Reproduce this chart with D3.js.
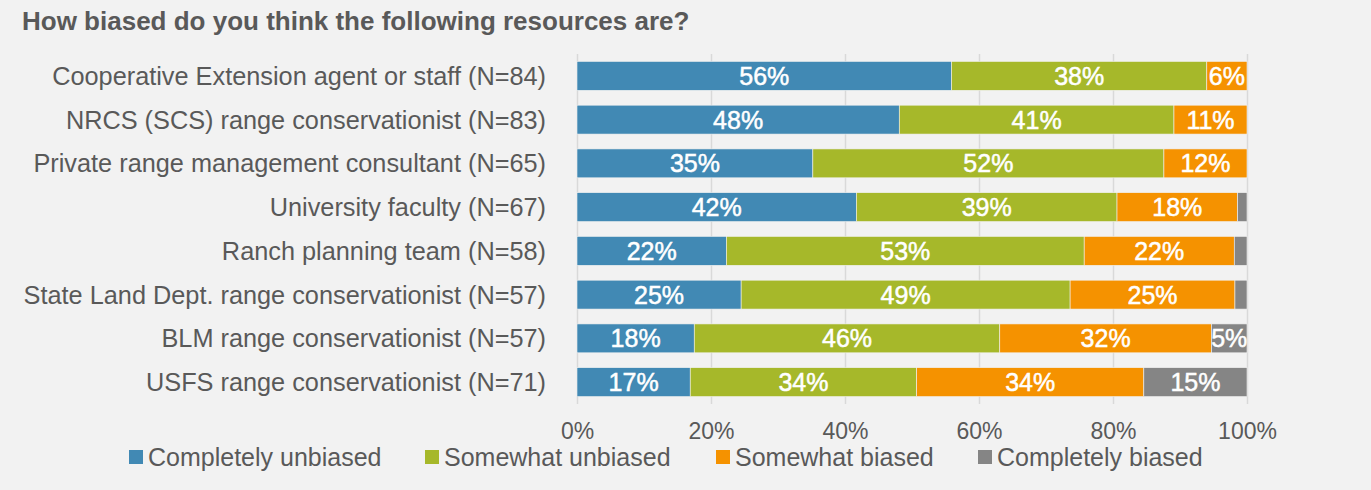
<!DOCTYPE html>
<html>
<head>
<meta charset="utf-8">
<script src="https://cdn.jsdelivr.net/npm/d3@7"></script>
<style>
  html, body { margin: 0; padding: 0; background: #f2f2f2; }
  svg { display: block; }
  text { font-family: "Liberation Sans", Arial, sans-serif; }
</style>
</head>
<body>
<svg id="chart" width="1371" height="490"></svg>
<script>
const title = "How biased do you think the following resources are?";
const categories = [
  "Cooperative Extension agent or staff (N=84)",
  "NRCS (SCS) range conservationist (N=83)",
  "Private range management consultant (N=65)",
  "University faculty (N=67)",
  "Ranch planning team (N=58)",
  "State Land Dept. range conservationist (N=57)",
  "BLM range conservationist (N=57)",
  "USFS range conservationist (N=71)"
];
const seriesNames = ["Completely unbiased", "Somewhat unbiased", "Somewhat biased", "Completely biased"];
const completelyUnbiased = [55.9, 48.1, 35.2, 41.7, 22.3, 24.5, 17.5, 16.9];
const somewhatUnbiased   = [38.1, 41.0, 52.4, 38.9, 53.4, 49.1, 45.6, 33.8];
const somewhatBiased     = [ 6.0, 10.9, 12.4, 18.0, 22.4, 24.6, 31.6, 33.9];
const completelyBiased   = [ 0.0,  0.0,  0.0,  1.4,  1.9,  1.8,  5.3, 15.4];
const tickValues = [0, 20, 40, 60, 80, 100];
const colors = ["#4189b4", "#a6b82a", "#f59200", "#858585"];

const svg = d3.select("#chart");
const W = 1371, H = 490;
svg.append("rect").attr("width", W).attr("height", H).attr("fill", "#f2f2f2");

const x = d3.scaleLinear().domain([0, 100]).range([577, 1247]);
const y = d3.scaleBand().domain(categories).range([54, 404]).paddingInner(0.34).paddingOuter(0.17);

svg.append("text").attr("x", 22).attr("y", 30)
  .attr("font-size", 26).attr("font-weight", "bold").attr("fill", "#595959")
  .text(title);

// gridlines + ticks
const xAxis = d3.axisBottom(x).tickValues(tickValues).tickFormat(d => d + "%")
  .tickSize(-(404 - 54)).tickPadding(19);
const gx = svg.append("g").attr("transform", "translate(0,404)").call(xAxis);
gx.select(".domain").remove();
gx.selectAll(".tick line").attr("stroke", "#d9d9d9").attr("stroke-width", 1.5);
gx.selectAll(".tick text").attr("font-size", 23).attr("fill", "#595959")
  .attr("font-family", "Liberation Sans, Arial, sans-serif");

const data = categories.map((c, i) => ({
  cat: c,
  v: [completelyUnbiased[i], somewhatUnbiased[i], somewhatBiased[i], completelyBiased[i]]
}));
const keys = [0, 1, 2, 3];
const stack = d3.stack().keys(keys).value((d, k) => d.v[k]);
const layers = stack(data);

const g = svg.append("g");
layers.forEach((layer, k) => {
  const lg = g.append("g");
  lg.selectAll("rect").data(layer).join("rect")
    .attr("x", d => x(d[0]))
    .attr("y", d => y(d.data.cat))
    .attr("width", d => x(d[1]) - x(d[0]))
    .attr("height", y.bandwidth())
    .attr("fill", colors[k])
    .attr("stroke", "#f2f2f2").attr("stroke-width", 0.6);
  lg.selectAll("text").data(layer.filter(d => d[1] - d[0] >= 4)).join("text")
    .attr("x", d => (x(d[0]) + x(d[1])) / 2)
    .attr("y", d => y(d.data.cat) + y.bandwidth() / 2)
    .attr("dy", "0.36em")
    .attr("text-anchor", "middle")
    .attr("font-size", 25).attr("fill", "#ffffff")
    .attr("stroke", "#ffffff").attr("stroke-width", 0.5)
    .text(d => Math.round(d[1] - d[0]) + "%");
});

// category labels
svg.append("g").selectAll("text").data(categories).join("text")
  .attr("x", 546).attr("y", d => y(d) + y.bandwidth() / 2).attr("dy", "0.36em")
  .attr("text-anchor", "end").attr("font-size", 25.3).attr("fill", "#595959")
  .text(d => d);

// legend
const legendX = [129, 425, 716, 978];
const lg = svg.append("g");
seriesNames.forEach((s, i) => {
  lg.append("rect").attr("x", legendX[i]).attr("y", 450).attr("width", 14).attr("height", 14).attr("fill", colors[i]);
  lg.append("text").attr("x", legendX[i] + 19).attr("y", 457).attr("dy", "0.36em")
    .attr("font-size", 25).attr("fill", "#595959").text(s);
});
</script>
</body>
</html>
